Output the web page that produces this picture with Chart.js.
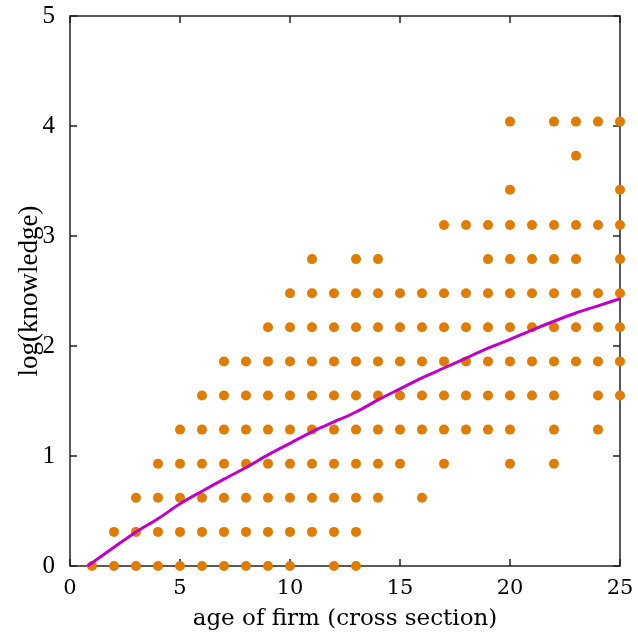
<!DOCTYPE html>
<html>
<head>
<meta charset="utf-8">
<script src="https://cdn.jsdelivr.net/npm/chart.js@4/dist/chart.umd.min.js"></script>
<style>
  body { margin: 0; background: #fff; }
</style>
</head>
<body>
<canvas id="chart" width="638" height="638"></canvas>
<script>
// log(knowledge) levels, and the firm ages that have a dot at each level
const levels = [0, 0.31, 0.62, 0.93, 1.24, 1.55, 1.86, 2.17, 2.48, 2.79, 3.10, 3.42, 3.73, 4.04];
const agesAtLevel = [
  [1, 2, 3, 4, 5, 6, 7, 8, 9, 10, 12, 13],
  [2, 3, 4, 5, 6, 7, 8, 9, 10, 11, 12, 13],
  [3, 4, 5, 6, 7, 8, 9, 10, 11, 12, 13, 14, 16],
  [4, 5, 6, 7, 8, 9, 10, 11, 12, 13, 14, 15, 17, 20, 22],
  [5, 6, 7, 8, 9, 10, 11, 12, 13, 14, 15, 16, 17, 18, 19, 20, 22, 24],
  [6, 7, 8, 9, 10, 11, 12, 13, 14, 15, 16, 17, 18, 19, 20, 21, 22, 24, 25],
  [7, 8, 9, 10, 11, 12, 13, 14, 15, 16, 17, 18, 19, 20, 21, 22, 23, 24, 25],
  [9, 10, 11, 12, 13, 14, 15, 16, 17, 18, 19, 20, 21, 22, 23, 24, 25],
  [10, 11, 12, 13, 14, 15, 16, 17, 18, 19, 20, 21, 22, 23, 24, 25],
  [11, 13, 14, 19, 20, 21, 22, 23, 25],
  [17, 18, 19, 20, 21, 22, 23, 24, 25],
  [20, 25],
  [23],
  [20, 22, 23, 24, 25]
];

// fitted curve
const fitAge = [0.8, 2, 3, 4, 5, 6, 7, 8, 9, 10, 11, 12, 13, 14, 15, 16, 17, 18, 19, 20, 21, 22, 23, 24, 25];
const fitValue = [0, 0.17, 0.31, 0.43, 0.565, 0.68, 0.79, 0.895, 1.01, 1.115, 1.22, 1.31, 1.40, 1.51, 1.61, 1.71, 1.80, 1.89, 1.98, 2.06, 2.145, 2.225, 2.30, 2.365, 2.43];

const xTicks = [0, 5, 10, 15, 20, 25];
const yTicks = [0, 1, 2, 3, 4, 5];

let points = [];
levels.forEach((lv, i) => {
  agesAtLevel[i].forEach((age) => points.push({ x: age, y: lv }));
});
const fitPoints = fitAge.map((a, i) => ({ x: a, y: fitValue[i] }));

// box round the plot with inward ticks on all four sides
const frame = {
  id: "frame",
  beforeDatasetsDraw(chart) {
    const { ctx, chartArea: a, scales } = chart;
    const t = 7;
    ctx.save();
    ctx.strokeStyle = "#222";
    ctx.lineWidth = 1.5;
    ctx.beginPath();
    xTicks.forEach((v) => {
      const px = scales.x.getPixelForValue(v);
      ctx.moveTo(px, a.bottom); ctx.lineTo(px, a.bottom - t);
      ctx.moveTo(px, a.top); ctx.lineTo(px, a.top + t);
    });
    yTicks.forEach((v) => {
      const py = scales.y.getPixelForValue(v);
      ctx.moveTo(a.left, py); ctx.lineTo(a.left + t, py);
      ctx.moveTo(a.right, py); ctx.lineTo(a.right - t, py);
    });
    ctx.stroke();
    ctx.strokeRect(a.left, a.top, a.right - a.left, a.bottom - a.top);
    ctx.restore();
  }
};

new Chart(document.getElementById("chart"), {
  type: "scatter",
  data: {
    datasets: [
      {
        type: "line",
        data: fitPoints,
        borderColor: "#c000c8",
        borderWidth: 3,
        pointRadius: 0,
        cubicInterpolationMode: "monotone",
        clip: false
      },
      {
        data: points,
        backgroundColor: "#e07c00",
        borderColor: "#e07c00",
        borderWidth: 0,
        pointRadius: 5,
        clip: false
      }
    ]
  },
  options: {
    responsive: false,
    animation: false,
    layout: { padding: { top: 16, right: 18, left: 0, bottom: 0 } },
    plugins: {
      legend: { display: false },
      tooltip: { enabled: false }
    },
    scales: {
      x: {
        type: "linear",
        min: 0,
        max: 25,
        grid: { display: false },
        border: { display: false },
        afterFit: (s) => {
          s.height = 72;
          s.paddingLeft = 0;
          s.paddingRight = 0;
        },
        ticks: {
          stepSize: 5,
          padding: 2,
          color: "#000",
          font: { family: "DejaVu Serif", size: 21 }
        },
        title: {
          display: true,
          text: "age of firm (cross section)",
          color: "#000",
          padding: { top: 0, bottom: 5 },
          font: { family: "DejaVu Serif", size: 23 }
        }
      },
      y: {
        min: 0,
        max: 5,
        grid: { display: false },
        border: { display: false },
        afterFit: (s) => {
          s.width = 70;
          s.paddingTop = 0;
          s.paddingBottom = 0;
        },
        ticks: {
          stepSize: 1,
          padding: 7,
          color: "#000",
          font: { family: "Liberation Serif", size: 25 }
        },
        title: {
          display: true,
          text: "log(knowledge)",
          color: "#000",
          padding: { top: 14, bottom: 0 },
          font: { family: "Liberation Serif", size: 27 }
        }
      }
    }
  },
  plugins: [frame]
});
</script>
</body>
</html>
